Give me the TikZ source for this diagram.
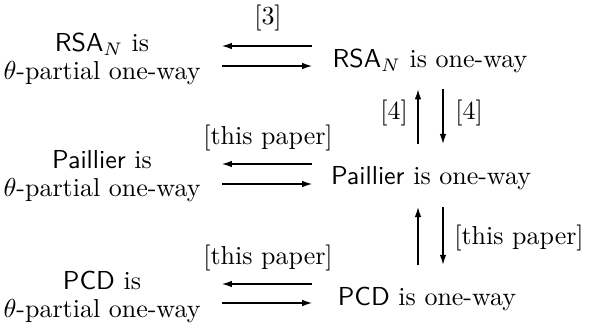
\documentclass[tikz,border=0pt]{standalone}
\usetikzlibrary{arrows.meta,calc}
\begin{document}
\begin{tikzpicture}[x=0.385pt,y=-0.385pt,
  txt/.style={inner sep=0pt,align=center,font=\normalsize},
  arr/.style={-{Latex[length=3.8pt,width=2.5pt]},line width=0.42pt},
  ref/.style={inner sep=0pt}]
\useasboundingbox (0,0) rectangle (591,324);
% left column: partial one-wayness
\node[txt] (rsaL) at (102,59) {\textsf{RSA}$_N$ is\\[-1pt]$\theta$-partial one-way};
\node[txt] (paiL) at (102,176) {\textsf{Paillier} is\\[-1pt]$\theta$-partial one-way};
\node[txt] (pcdL) at (102,297) {\textsf{PCD} is\\[-1pt]$\theta$-partial one-way};
% right column: one-wayness
\node[txt] (rsaR) at (430,61) {\textsf{RSA}$_N$ is one-way};
\node[txt] (paiR) at (431,178) {\textsf{Paillier} is one-way};
\node[txt] (pcdR) at (427,299) {\textsf{PCD} is one-way};
% arrow columns
\coordinate (hA) at (222,0);
\coordinate (hB) at (312,0);
\coordinate (vU) at (418,0);
\coordinate (vD) at (443,0);
% horizontal implications
\foreach \r/\u/\d in {rsaR/-15/5, paiR/-14/6, pcdR/-15/4}{
  \draw[arr] ($(hB |- \r.west)+(0,\u)$) -- ($(hA |- \r.west)+(0,\u)$);
  \draw[arr] ($(hA |- \r.west)+(0,\d)$) -- ($(hB |- \r.west)+(0,\d)$);
}
\node[ref] (c3) at (268,18) {[3]};
\node[ref] (c2) at (268,138) {[this paper]};
\node[ref] (c1) at (268,258) {[this paper]};
% vertical implications
\draw[arr] ($(vU |- paiR.north)+(0,-22)$) -- ($(vU |- rsaR.south)+(0,16)$);
\draw[arr] ($(vD |- rsaR.south)+(0,16)$) -- ($(vD |- paiR.north)+(0,-22)$);
\draw[arr] ($(vU |- pcdR.north)+(0,-22)$) -- ($(vU |- paiR.south)+(0,17)$);
\draw[arr] ($(vD |- paiR.south)+(0,17)$) -- ($(vD |- pcdR.north)+(0,-22)$);
\node[ref] (v1) at (394,113) {[4]};
\node[ref] (v2) at (469,113) {[4]};
\node[ref] (v3) at (519,238) {[this paper]};
\end{tikzpicture}
\end{document}
